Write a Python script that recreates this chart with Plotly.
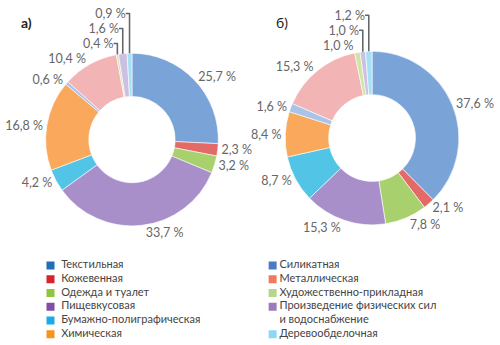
import plotly.graph_objects as go

# ---- data ----
categories = ["Текстильная", "Кожевенная", "Одежда и туалет", "Пищевкусовая",
              "Бумажно-полиграфическая", "Химическая", "Силикатная", "Металлическая",
              "Художественно-прикладная", "Произведение физических сил и водоснабжение",
              "Деревообделочная"]
values_a = [25.7, 2.3, 3.2, 33.7, 4.2, 16.8, 0.6, 10.4, 0.4, 1.6, 0.9]
values_b = [37.6, 2.1, 7.8, 15.3, 8.7, 8.4, 1.6, 15.3, 1.0, 1.0, 1.2]

slice_colors = ["#7aa4d8", "#e46a68", "#a8d06c", "#a88fca", "#52c4e6", "#f9a85c",
                "#a9c4e8", "#f2b4b4", "#cfe5a8", "#cdbfe2", "#a6e0f5"]
legend_colors = ["#1f6eb7", "#d7232e", "#8dc63f", "#7f4fa1", "#1aabe6", "#f7941d",
                 "#4b7cc2", "#f37a5d", "#b6d68c", "#9b7ac0", "#8cd7f3"]

legend_a_text = ["Текстильная", "Кожевенная", "Одежда и туалет", "Пищевкусовая",
                 "Бумажно-полиграфическая", "Химическая"]
legend_b_text = ["Силикатная", "Металлическая", "Художественно-прикладная",
                 "Произведение физических сил", "и водоснабжение", "Деревообделочная"]
legend_b_marker = [True, True, True, True, False, True]


def fmt(v):
    return f"{v:.1f}".replace(".", ",") + " %"


fig = go.Figure()

label_font = dict(family="Lato, sans-serif", size=12.5, color="#666666")

for vals, dom in [(values_a, dict(x=[0.09, 0.446], y=[0.348, 0.864])),
                  (values_b, dict(x=[0.584, 0.942], y=[0.354, 0.867]))]:
    fig.add_trace(go.Pie(
        labels=categories, values=vals, sort=False, direction="clockwise",
        rotation=0, hole=0.5, domain=dom,
        marker=dict(colors=slice_colors, line=dict(color="white", width=0.6)),
        text=[fmt(v) for v in vals], textinfo="text", textposition="outside",
        outsidetextfont=label_font, showlegend=False, hoverinfo="label+text",
    ))

# ---- custom legends (markers + text on a hidden axis) ----
rows_a = list(range(len(legend_a_text)))
rows_b = list(range(len(legend_b_text)))
b_colors = []
ci = 6
for m in legend_b_marker:
    if m:
        b_colors.append(legend_colors[ci]); ci += 1
    else:
        b_colors.append("rgba(0,0,0,0)")

legend_font = dict(family="Lato, sans-serif", size=11, color="#444444")

fig.add_trace(go.Scatter(x=[50] * len(rows_a), y=rows_a, mode="markers",
                         marker=dict(symbol="square", size=8, color=legend_colors[:6]),
                         showlegend=False, hoverinfo="skip"))
fig.add_trace(go.Scatter(x=[61] * len(rows_a), y=rows_a, mode="text",
                         text=legend_a_text, textposition="middle right",
                         textfont=legend_font, showlegend=False, hoverinfo="skip"))
fig.add_trace(go.Scatter(x=[279] * len(rows_b), y=rows_b, mode="markers",
                         marker=dict(symbol="square", size=8, color=b_colors),
                         showlegend=False, hoverinfo="skip"))
fig.add_trace(go.Scatter(x=[286] * len(rows_b), y=rows_b, mode="text",
                         text=legend_b_text, textposition="middle right",
                         textfont=legend_font, showlegend=False, hoverinfo="skip"))

fig.update_layout(
    width=500, height=345, margin=dict(l=0, r=0, t=0, b=0),
    paper_bgcolor="white", plot_bgcolor="white",
    xaxis=dict(range=[0, 500], domain=[0, 1], visible=False, fixedrange=True),
    yaxis=dict(range=[5.5, -0.5], domain=[0.0116, 0.255], visible=False, fixedrange=True),
    annotations=[
        dict(text="<b>а)</b>", x=18 / 500, y=1 - 17 / 345, xref="paper", yref="paper",
             xanchor="left", yanchor="middle", showarrow=False,
             font=dict(family="Lato, sans-serif", size=14, color="#222")),
        dict(text="б)", x=280 / 500, y=1 - 17 / 345, xref="paper", yref="paper",
             xanchor="left", yanchor="middle", showarrow=False,
             font=dict(family="Lato, sans-serif", size=14, color="#222")),
    ],
)

fig.write_html("out.html")
